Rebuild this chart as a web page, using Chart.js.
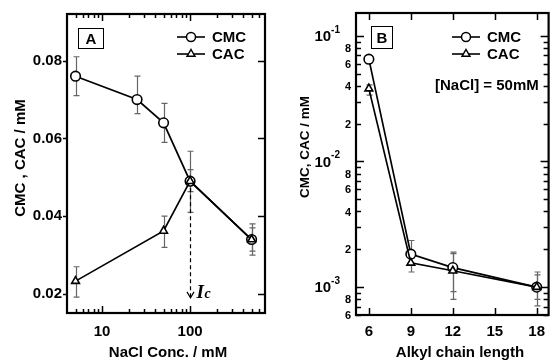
<!DOCTYPE html>
<html>
<head>
<meta charset="utf-8">
<script src="https://cdn.jsdelivr.net/npm/chart.js@4"></script>
<style>
  html, body { margin: 0; padding: 0; background: #fff; }
  #wrap { position: relative; width: 555px; height: 361px; }
  canvas { position: absolute; top: 0; }
  #chartA { left: 0; }
  #chartB { left: 278px; }
</style>
</head>
<body>
<div id="wrap">
  <canvas id="chartA" width="278" height="361"></canvas>
  <canvas id="chartB" width="277" height="361"></canvas>
</div>
<script>
// panel A: CMC / CAC vs NaCl concentration
const naclConc = [5, 25, 50, 100, 500];
const cmcA = [0.076, 0.070, 0.064, 0.049, 0.034];
const cmcALo = [0.071, 0.0664, 0.059, 0.041, 0.030];
const cmcAHi = [0.081, 0.076, 0.069, 0.0567, 0.038];
const cacConc = [5, 50, 100, 500];
const cacA = [0.0233, 0.0362, 0.049, 0.034];
const cacALo = [0.0192, 0.032, 0.0463, 0.031];
const cacAHi = [0.027, 0.040, 0.052, 0.037];
const xTicksA = [10, 100];
const yTicksA = [0.02, 0.04, 0.06, 0.08];
const icConc = 100;

// panel B: CMC / CAC vs alkyl chain length, [NaCl] = 50 mM
const chainLen = [6, 9, 12, 18];
const cmcB = [0.0652, 0.00183, 0.00143, 0.00100];
const cmcBLo = [null, 0.0015, 0.00092, 0.0008];
const cmcBHi = [null, 0.00235, 0.0019, 0.00132];
const cacB = [0.038, 0.00156, 0.00135, 0.00100];
const cacBLo = [0.0338, 0.00132, 0.0008, 0.00071];
const cacBHi = [0.0407, 0.0017, 0.00185, 0.00125];
const xTicksB = [6, 9, 12, 15, 18];
const yDecadesB = [-3, -2, -1];
const yMinorLabelsB = [2, 4, 6, 8];

const FONT = '"Liberation Sans", Arial, sans-serif';
const errColor = '#666';

function dataset(label, xs, ys, style, r) {
  return {
    label,
    data: xs.map((x, i) => ({ x, y: ys[i] })),
    borderColor: '#000',
    borderWidth: 1.7,
    pointStyle: style,
    pointRadius: r,
    pointBackgroundColor: '#fff',
    pointBorderColor: '#000',
    pointBorderWidth: 1.6,
    tension: 0
  };
}

function drawErrors(chart, xs, lo, hi) {
  const { ctx, scales: { x, y } } = chart;
  ctx.save();
  ctx.strokeStyle = errColor;
  ctx.lineWidth = 1.2;
  xs.forEach((v, i) => {
    if (lo[i] == null) return;
    const px = Math.round(x.getPixelForValue(v)) + 0.5;
    const t = y.getPixelForValue(hi[i]);
    const b = y.getPixelForValue(lo[i]);
    ctx.beginPath();
    ctx.moveTo(px, t); ctx.lineTo(px, b);
    ctx.moveTo(px - 3, t); ctx.lineTo(px + 3, t);
    ctx.moveTo(px - 3, b); ctx.lineTo(px + 3, b);
    ctx.stroke();
  });
  ctx.restore();
}

function xTickMarks(chart, vals, len) {
  const { ctx, chartArea: a, scales: { x } } = chart;
  ctx.beginPath();
  vals.forEach(v => {
    const px = Math.round(x.getPixelForValue(v)) + 0.5;
    ctx.moveTo(px, a.bottom); ctx.lineTo(px, a.bottom - len);
    ctx.moveTo(px, a.top); ctx.lineTo(px, a.top + len);
  });
  ctx.stroke();
}

function yTickMarks(chart, vals, lenL, lenR) {
  const { ctx, chartArea: a, scales: { y } } = chart;
  ctx.beginPath();
  vals.forEach(v => {
    const py = Math.round(y.getPixelForValue(v)) + 0.5;
    ctx.moveTo(a.left, py); ctx.lineTo(a.left + lenL, py);
    ctx.moveTo(a.right, py); ctx.lineTo(a.right - lenR, py);
  });
  ctx.stroke();
}

function marker(ctx, style, x, y, r) {
  ctx.beginPath();
  if (style === 'circle') {
    ctx.arc(x, y, r, 0, Math.PI * 2);
  } else {
    ctx.moveTo(x, y - r);
    ctx.lineTo(x + r * 0.866, y + r * 0.5);
    ctx.lineTo(x - r * 0.866, y + r * 0.5);
    ctx.closePath();
  }
  ctx.fillStyle = '#fff';
  ctx.fill();
  ctx.lineWidth = 1.5;
  ctx.stroke();
}

function legend(ctx, x, y) {
  [['CMC', 'circle', 4.5], ['CAC', 'triangle', 4.5]].forEach(([t, s, r], i) => {
    const ly = y + i * 17;
    ctx.lineWidth = 1.6;
    ctx.beginPath();
    ctx.moveTo(x, ly); ctx.lineTo(x + 28, ly);
    ctx.stroke();
    marker(ctx, s, x + 14, ly, r);
    ctx.fillStyle = '#000';
    ctx.font = 'bold 15px ' + FONT;
    ctx.textAlign = 'left';
    ctx.textBaseline = 'middle';
    ctx.fillText(t, x + 35, ly + 1);
  });
}

function boxLabel(ctx, t, x, y, w, h) {
  ctx.lineWidth = 1;
  ctx.strokeStyle = '#000';
  ctx.strokeRect(x + 0.5, y + 0.5, w, h);
  ctx.fillStyle = '#000';
  ctx.font = 'bold 15px ' + FONT;
  ctx.textAlign = 'center';
  ctx.textBaseline = 'middle';
  ctx.fillText(t, x + w / 2 + 0.5, y + h / 2 + 1.5);
}

function vTitle(ctx, t, x, y, size) {
  ctx.save();
  ctx.translate(x, y);
  ctx.rotate(-Math.PI / 2);
  ctx.fillStyle = '#000';
  ctx.font = 'bold ' + size + 'px ' + FONT;
  ctx.textAlign = 'center';
  ctx.textBaseline = 'middle';
  ctx.fillText(t, 0, 0);
  ctx.restore();
}

function hTitle(ctx, t, x, y) {
  ctx.fillStyle = '#000';
  ctx.font = 'bold 15px ' + FONT;
  ctx.textAlign = 'center';
  ctx.textBaseline = 'middle';
  ctx.fillText(t, x, y);
}

const tickFont = { family: FONT, size: 15, weight: 'bold' };
const noGrid = { display: false, drawTicks: false };

// ---------- panel A ----------
const minorA = [];
[1, 10, 100].forEach(d => {
  for (let k = 2; k <= 9; k++) {
    const v = k * d;
    if (v >= 5 && v <= 600 && v !== 10 && v !== 100) minorA.push(v);
  }
});

const plugA = {
  id: 'plugA',
  beforeDatasetsDraw(chart) {
    drawErrors(chart, naclConc, cmcALo, cmcAHi);
    drawErrors(chart, cacConc, cacALo, cacAHi);
  },
  afterDraw(chart) {
    const { ctx, chartArea: a, scales: { x, y } } = chart;
    ctx.save();
    ctx.strokeStyle = '#000';
    ctx.lineWidth = 1.5;
    xTickMarks(chart, xTicksA, 7);
    xTickMarks(chart, minorA, 4);
    // right ticks inward, left ticks outward
    ctx.beginPath();
    yTicksA.forEach(v => {
      const py = Math.round(y.getPixelForValue(v)) + 0.5;
      ctx.moveTo(a.right, py); ctx.lineTo(a.right - 7, py);
      ctx.moveTo(a.left, py); ctx.lineTo(a.left - 4, py);
    });
    ctx.stroke();
    ctx.lineWidth = 2.2;
    ctx.strokeRect(a.left, a.top, a.right - a.left, a.bottom - a.top);

    // dashed arrow to Ic
    const px = Math.round(x.getPixelForValue(icConc)) + 0.5;
    const y0 = y.getPixelForValue(cmcA[3]) + 7;
    const y1 = y.getPixelForValue(0.019);
    ctx.lineWidth = 1.2;
    ctx.setLineDash([4, 3]);
    ctx.beginPath();
    ctx.moveTo(px, y0); ctx.lineTo(px, y1);
    ctx.stroke();
    ctx.setLineDash([]);
    ctx.beginPath();
    ctx.moveTo(px - 3.5, y1 - 6); ctx.lineTo(px, y1); ctx.lineTo(px + 3.5, y1 - 6);
    ctx.stroke();
    ctx.fillStyle = '#000';
    ctx.textAlign = 'left';
    ctx.textBaseline = 'alphabetic';
    ctx.font = 'italic bold 19px "Liberation Serif", "DejaVu Serif", serif';
    ctx.fillText('I', px + 6, y1);
    ctx.font = 'italic bold 14px "Liberation Serif", "DejaVu Serif", serif';
    ctx.fillText('c', px + 14, y1);

    boxLabel(ctx, 'A', 78, 28, 25, 20);
    legend(ctx, 177, 37);
    vTitle(ctx, 'CMC , CAC / mM', 21, 158, 15);
    hTitle(ctx, 'NaCl Conc. / mM', 168, 353);
    ctx.restore();
  }
};

new Chart(document.getElementById('chartA'), {
  type: 'line',
  data: {
    datasets: [
      dataset('CAC', cacConc, cacA, 'triangle', 4.5),
      dataset('CMC', naclConc, cmcA, 'circle', 4.8)
    ]
  },
  options: {
    responsive: false,
    animation: false,
    devicePixelRatio: 1,
    layout: { padding: { top: 13, right: 13, left: 0, bottom: 0 } },
    plugins: { legend: { display: false }, tooltip: { enabled: false } },
    scales: {
      x: {
        type: 'logarithmic',
        min: 4,
        max: 710,
        grid: noGrid,
        border: { display: false },
        afterBuildTicks: s => { s.ticks = xTicksA.map(v => ({ value: v })); },
        afterFit: s => { s.height = 48; },
        ticks: { font: tickFont, color: '#000', padding: 10, maxRotation: 0, autoSkip: false,
          callback: v => String(v) }
      },
      y: {
        type: 'linear',
        min: 0.0151,
        max: 0.092,
        grid: noGrid,
        border: { display: false },
        afterBuildTicks: s => { s.ticks = yTicksA.map(v => ({ value: v })); },
        afterFit: s => { s.width = 67; },
        ticks: { font: tickFont, color: '#000', padding: 5,
          callback: v => v.toFixed(2) }
      }
    }
  },
  plugins: [plugA]
});

// ---------- panel B ----------
const minorB = [];
yDecadesB.forEach(e => {
  for (let k = 2; k <= 9; k++) {
    const v = k * Math.pow(10, e - 1);
    if (v >= 0.0006 && v <= 0.15) minorB.push(v);
  }
});
const majorB = yDecadesB.map(e => Math.pow(10, e));

const plugB = {
  id: 'plugB',
  beforeDatasetsDraw(chart) {
    drawErrors(chart, chainLen, cmcBLo, cmcBHi);
    drawErrors(chart, chainLen, cacBLo, cacBHi);
  },
  afterDraw(chart) {
    const { ctx, chartArea: a, scales: { y } } = chart;
    ctx.save();
    ctx.strokeStyle = '#000';
    ctx.lineWidth = 1.5;
    xTickMarks(chart, xTicksB, 7);
    yTickMarks(chart, majorB, 8, 8);
    yTickMarks(chart, minorB, 5, 5);
    ctx.lineWidth = 2.2;
    ctx.strokeRect(a.left, a.top, a.right - a.left, a.bottom - a.top);

    // log axis labels
    ctx.fillStyle = '#000';
    ctx.textBaseline = 'middle';
    ctx.textAlign = 'right';
    yDecadesB.forEach(e => {
      const py = y.getPixelForValue(Math.pow(10, e));
      ctx.font = 'bold 10px ' + FONT;
      ctx.fillText(String(e), a.left - 16, py - 6);
      const w = ctx.measureText(String(e)).width;
      ctx.font = 'bold 15px ' + FONT;
      ctx.fillText('10', a.left - 16 - w, py + 1);
    });
    ctx.font = 'bold 11px ' + FONT;
    yDecadesB.forEach(e => {
      yMinorLabelsB.forEach(k => {
        const v = k * Math.pow(10, e - 1);
        if (v < 0.0006 || v > 0.15) return;
        ctx.fillText(String(k), a.left - 5, y.getPixelForValue(v) + 1);
      });
    });

    boxLabel(ctx, 'B', 371 - 278, 26, 21, 22);
    legend(ctx, 452 - 278, 37);
    ctx.font = 'bold 15px ' + FONT;
    ctx.textAlign = 'left';
    ctx.textBaseline = 'middle';
    ctx.fillText('[NaCl] = 50mM', 435 - 278, 86);
    vTitle(ctx, 'CMC, CAC / mM', 305 - 278, 147, 13.5);
    hTitle(ctx, 'Alkyl chain length', 460 - 278, 353);
    ctx.restore();
  }
};

new Chart(document.getElementById('chartB'), {
  type: 'line',
  data: {
    datasets: [
      dataset('CAC', chainLen, cacB, 'triangle', 4.5),
      dataset('CMC', chainLen, cmcB, 'circle', 4.8)
    ]
  },
  options: {
    responsive: false,
    animation: false,
    devicePixelRatio: 1,
    layout: { padding: { top: 13, right: 4, left: 0, bottom: 0 } },
    plugins: { legend: { display: false }, tooltip: { enabled: false } },
    scales: {
      x: {
        type: 'linear',
        min: 5.08,
        max: 18.85,
        grid: noGrid,
        border: { display: false },
        afterBuildTicks: s => { s.ticks = xTicksB.map(v => ({ value: v })); },
        afterFit: s => { s.height = 46; },
        ticks: { font: tickFont, color: '#000', padding: 8, maxRotation: 0, autoSkip: false,
          callback: v => String(v) }
      },
      y: {
        type: 'logarithmic',
        min: 0.0006,
        max: 0.152,
        grid: noGrid,
        border: { display: false },
        afterFit: s => { s.width = 78; },
        ticks: { display: false }
      }
    }
  },
  plugins: [plugB]
});
</script>
</body>
</html>
